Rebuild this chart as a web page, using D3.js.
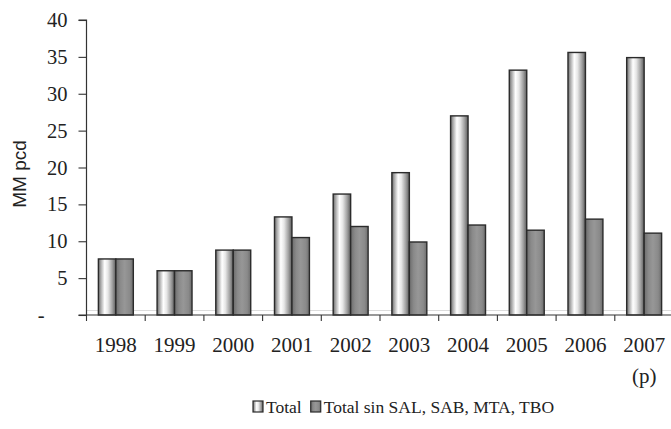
<!DOCTYPE html>
<html>
<head>
<meta charset="utf-8">
<script src="https://cdn.jsdelivr.net/npm/d3@7"></script>
<style>
  html, body { margin: 0; padding: 0; background: #fff; }
  svg { display: block; }
</style>
</head>
<body>
<svg id="chart" width="671" height="429"></svg>
<script>
// Data: MM pcd per year
const years = ["1998", "1999", "2000", "2001", "2002", "2003", "2004", "2005", "2006", "2007"];
const yearNotes = ["", "", "", "", "", "", "", "", "", "(p)"];
const seriesNames = ["Total", "Total sin SAL, SAB, MTA, TBO"];
const totalValues = [7.6, 6.0, 8.8, 13.3, 16.4, 19.3, 27.0, 33.2, 35.6, 34.9];
const sinValues   = [7.6, 6.0, 8.8, 10.5, 12.0, 9.9, 12.2, 11.5, 13.0, 11.1];
const yTicks = [0, 5, 10, 15, 20, 25, 30, 35, 40];
const yTickLabels = ["-", "5", "10", "15", "20", "25", "30", "35", "40"];

const svg = d3.select("#chart");
const serif = "'Liberation Serif', 'Times New Roman', serif";
const sans = "'Liberation Sans', Arial, sans-serif";

const plot = { left: 86.5, right: 673.5, top: 20, bottom: 315 };

const x = d3.scaleBand().domain(years).range([plot.left, plot.right]).padding(0);
const xSub = d3.scaleBand().domain(seriesNames).range([0, x.bandwidth()])
  .paddingInner(0).paddingOuter(0.68);
const y = d3.scaleLinear().domain([0, 40]).range([plot.bottom, plot.top]);

// Gradients for the cylinder-like shading
const defs = svg.append("defs");
const gTotal = defs.append("linearGradient").attr("id", "gradTotal")
  .attr("x1", "0%").attr("x2", "100%").attr("y1", "0%").attr("y2", "0%");
[[0, "#6a6a6a"], [0.14, "#a9a9a9"], [0.36, "#ffffff"], [0.55, "#e6e6e6"], [0.8, "#a0a0a0"], [1, "#5c5c5c"]]
  .forEach(([o, c]) => gTotal.append("stop").attr("offset", o).attr("stop-color", c));
const gSin = defs.append("linearGradient").attr("id", "gradSin")
  .attr("x1", "0%").attr("x2", "100%").attr("y1", "0%").attr("y2", "0%");
[[0, "#6c6c6c"], [0.25, "#8a8a8a"], [0.5, "#979797"], [0.8, "#8a8a8a"], [1, "#6c6c6c"]]
  .forEach(([o, c]) => gSin.append("stop").attr("offset", o).attr("stop-color", c));
const fills = { "Total": "url(#gradTotal)", "Total sin SAL, SAB, MTA, TBO": "url(#gradSin)" };

// Faint floor line
svg.append("line")
  .attr("x1", plot.left).attr("x2", plot.right)
  .attr("y1", plot.bottom - 4.5).attr("y2", plot.bottom - 4.5)
  .attr("stroke", "#dcdcdc").attr("stroke-width", 1);

// Bars
const rows = years.map((yr, i) => ({ year: yr, values: [
  { key: seriesNames[0], value: totalValues[i] },
  { key: seriesNames[1], value: sinValues[i] }
]}));

const groups = svg.append("g").selectAll("g").data(rows).join("g")
  .attr("transform", d => `translate(${x(d.year)},0)`);
groups.selectAll("rect").data(d => d.values).join("rect")
  .attr("x", d => xSub(d.key))
  .attr("y", d => y(d.value))
  .attr("width", xSub.bandwidth())
  .attr("height", d => y(0) - y(d.value))
  .attr("fill", d => fills[d.key])
  .attr("stroke", "#2b2b2b")
  .attr("stroke-width", 1.4);

// Y axis
const yAxis = d3.axisLeft(y).tickValues(yTicks)
  .tickFormat((d, i) => yTickLabels[i]).tickSize(8).tickPadding(11);
const gy = svg.append("g").attr("transform", `translate(${plot.left},0)`).call(yAxis);
gy.attr("font-family", serif);
gy.select(".domain").attr("stroke", "#333").attr("stroke-width", 1.2).attr("d", `M-8,${plot.top}H0V${plot.bottom}`);
gy.selectAll(".tick line").attr("stroke", "#333").attr("stroke-width", 1.1);
gy.selectAll(".tick text").attr("font-family", serif).attr("font-size", 20.5).attr("fill", "#222");
gy.selectAll(".tick").filter(d => d === 0).select("text").attr("x", -42);

// X axis
const gx = svg.append("g").attr("transform", `translate(0,${plot.bottom})`);
gx.append("line").attr("x1", plot.left - 8).attr("x2", plot.right)
  .attr("y1", 0).attr("y2", 0).attr("stroke", "#333").attr("stroke-width", 1.2);
gx.selectAll("line.xtick").data(years).join("line").attr("class", "xtick")
  .attr("x1", d => x(d)).attr("x2", d => x(d))
  .attr("y1", 0).attr("y2", 6).attr("stroke", "#333").attr("stroke-width", 1.1);
gx.selectAll("text.year").data(years).join("text").attr("class", "year")
  .attr("x", d => x(d) + x.bandwidth() / 2).attr("y", 36.5)
  .attr("text-anchor", "middle").attr("font-family", serif).attr("font-size", 21).attr("fill", "#222")
  .text(d => d);
gx.selectAll("text.note").data(years.filter((d, i) => yearNotes[i])).join("text").attr("class", "note")
  .attr("x", d => x(d) + x.bandwidth() / 2).attr("y", 68)
  .attr("text-anchor", "middle").attr("font-family", serif).attr("font-size", 21).attr("fill", "#222")
  .text(d => yearNotes[years.indexOf(d)]);

// Y axis title
svg.append("text")
  .attr("transform", "translate(26,174) rotate(-90)")
  .attr("text-anchor", "middle").attr("font-family", sans).attr("font-size", 19).attr("fill", "#222")
  .text("MM pcd");

// Legend
const legend = svg.append("g").attr("transform", "translate(253,407)");
let lx = 0;
seriesNames.forEach((name, i) => {
  legend.append("rect").attr("x", lx).attr("y", -6).attr("width", 10).attr("height", 11)
    .attr("fill", fills[name]).attr("stroke", "#2b2b2b").attr("stroke-width", 1.2);
  const t = legend.append("text").attr("x", lx + 13).attr("y", 0).attr("dy", "0.35em")
    .attr("font-family", serif).attr("font-size", 17.5).attr("fill", "#222").text(name);
  lx += 13 + t.node().getComputedTextLength() + 9;
});
</script>
</body>
</html>
